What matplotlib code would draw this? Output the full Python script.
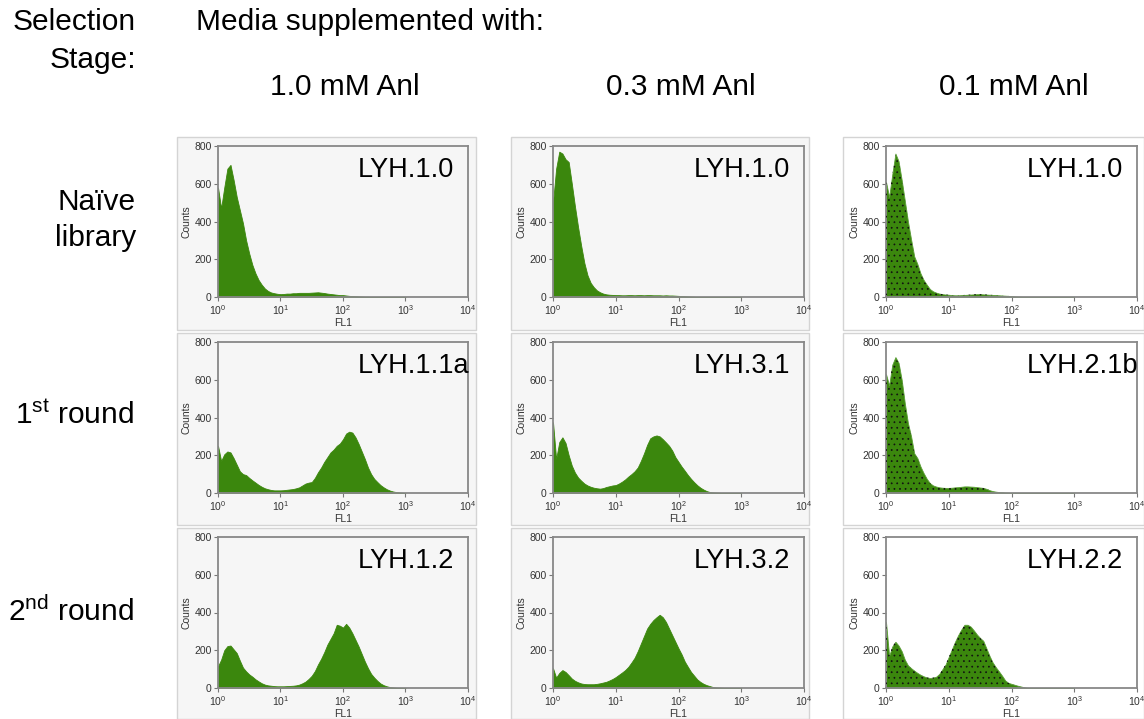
import matplotlib
matplotlib.use("Agg")
import matplotlib.pyplot as plt
from matplotlib.patches import Rectangle
import numpy as np

plt.rcParams['font.family'] = ['Liberation Sans', 'DejaVu Sans']
plt.rcParams['mathtext.fontset'] = 'custom'
plt.rcParams['mathtext.rm'] = 'Liberation Sans'
plt.rcParams['mathtext.it'] = 'Liberation Sans:italic'
plt.rcParams['hatch.linewidth'] = 0.5

# ---------------- data ----------------
log_fl1 = [0.00, 0.05, 0.10, 0.15, 0.20, 0.25, 0.30, 0.35, 0.40, 0.45,
           0.50, 0.55, 0.60, 0.65, 0.70, 0.75, 0.80, 0.85, 0.90, 0.95,
           1.00, 1.05, 1.10, 1.15, 1.20, 1.25, 1.30, 1.35, 1.40, 1.45,
           1.50, 1.55, 1.60, 1.65, 1.70, 1.75, 1.80, 1.85, 1.90, 1.95,
           2.00, 2.05, 2.10, 2.15, 2.20, 2.25, 2.30, 2.35, 2.40, 2.45,
           2.50, 2.55, 2.60, 2.65, 2.70, 2.75, 2.80, 2.85, 2.90, 2.95,
           3.00]

naive_10 = [580, 470, 580, 680, 700, 620, 530, 460, 390, 300,
            230, 170, 125, 90, 65, 45, 32, 24, 20, 17,
            15, 16, 18, 18, 20, 20, 22, 22, 22, 22,
            23, 24, 25, 23, 21, 18, 16, 14, 12, 10,
            10, 8, 6, 5, 4, 3, 2, 1, 1, 0,
            0, 0, 0, 0, 0, 0, 0, 0, 0, 0,
            0]
naive_03 = [500, 680, 770, 760, 730, 715, 600, 480, 370, 270,
            180, 115, 75, 52, 35, 25, 18, 14, 12, 11,
            10, 10, 9, 9, 10, 10, 9, 10, 10, 9,
            10, 10, 9, 9, 9, 8, 9, 8, 8, 7,
            6, 5, 4, 3, 2, 1, 0, 0, 0, 0,
            0, 0, 0, 0, 0, 0, 0, 0, 0, 0,
            0]
naive_01 = [610, 530, 650, 760, 720, 620, 510, 400, 305, 215,
            175, 125, 90, 65, 42, 30, 23, 18, 15, 13,
            12, 10, 9, 9, 10, 11, 12, 13, 14, 15,
            15, 14, 13, 12, 11, 10, 9, 8, 7, 6,
            5, 3, 2, 1, 0, 0, 0, 0, 0, 0,
            0, 0, 0, 0, 0, 0, 0, 0, 0, 0,
            0]
round1_10 = [250, 170, 205, 220, 215, 185, 150, 115, 100, 95,
             80, 67, 55, 43, 33, 25, 20, 16, 14, 14,
             14, 15, 17, 19, 21, 25, 30, 40, 50, 55,
             58, 80, 110, 135, 165, 190, 215, 230, 250, 262,
             285, 315, 325, 320, 295, 260, 220, 180, 135, 100,
             75, 58, 42, 30, 20, 13, 8, 5, 3, 1,
             0]
round1_03 = [375, 180, 270, 295, 265, 200, 145, 108, 82, 65,
             50, 40, 33, 28, 25, 23, 26, 32, 36, 40,
             42, 50, 60, 72, 87, 100, 115, 135, 170, 210,
             255, 290, 300, 305, 300, 285, 268, 250, 225, 190,
             165, 140, 118, 95, 75, 57, 41, 28, 18, 10,
             5, 3, 2, 1, 0, 0, 0, 0, 0, 0,
             0]
round1_01 = [630, 570, 680, 720, 690, 600, 475, 370, 300, 210,
             185, 140, 105, 75, 52, 40, 34, 30, 28, 27,
             27, 28, 30, 31, 33, 35, 35, 34, 33, 31,
             29, 27, 22, 15, 10, 7, 5, 4, 2, 1,
             0, 0, 0, 0, 0, 0, 0, 0, 0, 0,
             0, 0, 0, 0, 0, 0, 0, 0, 0, 0,
             0]
round2_10 = [115, 150, 200, 222, 225, 205, 185, 145, 108, 88,
             72, 60, 46, 35, 25, 18, 14, 12, 10, 9,
             9, 9, 10, 11, 12, 14, 18, 25, 34, 48,
             65, 90, 125, 155, 190, 230, 260, 290, 335, 330,
             320, 340, 320, 290, 255, 220, 180, 140, 105, 75,
             55, 38, 24, 15, 9, 5, 3, 1, 0, 0,
             0]
round2_03 = [105, 55, 80, 95, 85, 68, 50, 38, 30, 24,
             21, 20, 20, 20, 22, 25, 29, 33, 40, 48,
             58, 70, 82, 95, 112, 135, 160, 195, 235, 275,
             315, 340, 360, 375, 388, 375, 350, 315, 280, 245,
             210, 178, 140, 112, 85, 65, 45, 32, 22, 15,
             10, 5, 3, 2, 1, 0, 0, 0, 0, 0,
             0]
round2_01 = [350, 170, 220, 245, 225, 195, 150, 120, 105, 92,
             80, 70, 62, 56, 53, 55, 60, 75, 100, 125,
             165, 205, 245, 280, 310, 335, 335, 325, 305, 283,
             265, 250, 210, 170, 135, 110, 88, 65, 40, 27,
             22, 17, 12, 8, 4, 1, 0, 0, 0, 0,
             0, 0, 0, 0, 0, 0, 0, 0, 0, 0,
             0]

column_titles = ["1.0 mM Anl", "0.3 mM Anl", "0.1 mM Anl"]
sample_names = [["LYH.1.0", "LYH.1.0", "LYH.1.0"],
                ["LYH.1.1a", "LYH.3.1", "LYH.2.1b"],
                ["LYH.1.2", "LYH.3.2", "LYH.2.2"]]
grid_data = [[naive_10, naive_03, naive_01],
             [round1_10, round1_03, round1_01],
             [round2_10, round2_03, round2_01]]
y_ticks = [0, 200, 400, 600, 800]
x_ticks = [1, 10, 100, 1000, 10000]
x_tick_labels = [r"$10^{0}$", r"$10^{1}$", r"$10^{2}$", r"$10^{3}$", r"$10^{4}$"]

# ---------------- layout ----------------
W, H = 1144, 719
fig = plt.figure(figsize=(W / 100, H / 100), dpi=100)
fig.patch.set_facecolor("white")

col_left = [218, 553, 886]
col_w = [250, 251, 251]
row_top = [146, 342, 537]
ax_h = 151
panel_x = [(177, 476), (511, 809), (843, 1144)]
panel_y = [(137, 330), (333, 525), (528, 719)]

green = "#3b870d"

def fx(px):
    return px / W

def fy(py):
    return 1 - py / H

# panel backgrounds
for r in range(3):
    for c in range(3):
        x0, x1 = panel_x[c]
        y0, y1 = panel_y[r]
        fc = "#f6f6f6" if c < 2 else "white"
        rect = Rectangle((fx(x0), fy(y1)), fx(x1 - x0), (y1 - y0) / H,
                         transform=fig.transFigure, facecolor=fc,
                         edgecolor="#d4d4d4", linewidth=1.0, zorder=-5)
        fig.patches.append(rect)

xs = 10 ** np.array(log_fl1)

for r in range(3):
    for c in range(3):
        ax = fig.add_axes([fx(col_left[c]), fy(row_top[r] + ax_h),
                           col_w[c] / W, ax_h / H])
        ax.set_zorder(2)
        ax.set_facecolor("#f6f6f6" if c < 2 else "white")
        vals = grid_data[r][c]
        if c < 2:
            ax.fill_between(xs, vals, 0, facecolor=green, edgecolor=green,
                            linewidth=0.6, zorder=2)
        else:
            ax.fill_between(xs, vals, 0, facecolor=green, edgecolor="#5c9e38",
                            linewidth=0.6, zorder=2)
            ax.fill_between(xs, vals, 0, facecolor="none", edgecolor="#111111",
                            hatch="...", linewidth=0, zorder=3)
        ax.set_xscale("log")
        ax.set_xlim(1, 10000)
        ax.set_ylim(0, 800)
        ax.set_yticks(y_ticks)
        ax.set_yticklabels([str(v) for v in y_ticks])
        ax.set_xticks(x_ticks)
        ax.set_xticklabels(x_tick_labels)
        ax.xaxis.set_minor_locator(matplotlib.ticker.NullLocator())
        ax.tick_params(axis="both", which="major", length=3, width=0.8,
                       color="#777777", labelsize=7.5, labelcolor="#333333",
                       pad=1.5)
        for sp in ax.spines.values():
            sp.set_color("#888888")
            sp.set_linewidth(1.3)
        ax.set_ylabel("Counts", fontsize=7.5, color="#333333", labelpad=2)
        ax.set_xlabel("FL1", fontsize=7.5, color="#333333", labelpad=1)
        ax.text(0.56, 0.84, sample_names[r][c], transform=ax.transAxes,
                fontsize=19.5, ha="left", va="center", color="black", zorder=5)

# ---------------- header texts ----------------
fs = 21.5
fig.text(fx(136), fy(22), "Selection", fontsize=fs, ha="right", va="center")
fig.text(fx(136), fy(60), "Stage:", fontsize=fs, ha="right", va="center")
fig.text(fx(196), fy(22), "Media supplemented with:", fontsize=fs,
         ha="left", va="center")
for c in range(3):
    cx = col_left[c] + col_w[c] / 2 + 2
    fig.text(fx(cx), fy(87), column_titles[c], fontsize=fs,
             ha="center", va="center")

fig.text(fx(136), fy(202), "Naïve", fontsize=fs, ha="right", va="center")
fig.text(fx(136), fy(238), "library", fontsize=fs, ha="right", va="center")
fig.text(fx(134), fy(415), r"1$^{\mathrm{st}}$ round", fontsize=fs,
         ha="right", va="center")
fig.text(fx(134), fy(612), r"2$^{\mathrm{nd}}$ round", fontsize=fs,
         ha="right", va="center")

fig.savefig("out.png", dpi=100, facecolor="white")
